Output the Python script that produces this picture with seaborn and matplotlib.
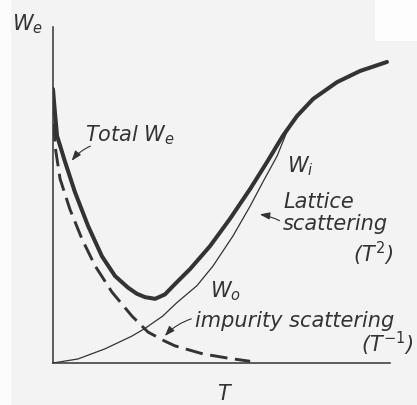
import matplotlib
matplotlib.use("Agg")
import matplotlib.pyplot as plt
from matplotlib.patches import Rectangle
import pandas as pd
import seaborn as sns

# Total electronic thermal resistance W_e versus temperature
total_T = [0.0, 0.03, 0.12, 0.36, 0.65, 1.04, 1.45, 1.84, 2.23, 2.49, 2.73, 3.03,
           3.32, 3.62, 4.07, 4.66, 5.25, 5.85, 6.35, 6.82, 7.24, 7.72, 8.43, 9.11, 9.91]
total_W = [8.15, 7.77, 6.76, 5.98, 5.09, 4.08, 3.18, 2.59, 2.24, 2.06, 1.96, 1.91,
           2.04, 2.35, 2.80, 3.48, 4.29, 5.18, 5.98, 6.76, 7.35, 7.86, 8.36, 8.69, 8.96]

# Impurity scattering part W_o (~ T^-1)
imp_T = [0.01, 0.06, 0.21, 0.50, 0.86, 1.25, 1.75, 2.34, 2.82, 3.32, 3.62, 4.45, 5.16, 5.85]
imp_W = [7.86, 6.46, 5.48, 4.58, 3.69, 2.89, 2.11, 1.40, 0.92, 0.65, 0.51, 0.27, 0.15, 0.05]

# Lattice scattering part W_i (~ T^2)
lat_T = [0.0, 0.74, 1.54, 2.34, 2.73, 3.26, 3.68, 4.27, 4.75, 5.34, 5.85, 6.23, 6.65,
         6.94, 7.03]
lat_W = [0.0, 0.12, 0.42, 0.80, 1.03, 1.40, 1.80, 2.30, 2.89, 3.78, 4.67, 5.39, 6.16,
         6.88, 7.02]

total = pd.DataFrame({"T": total_T, "W": total_W})
impurity = pd.DataFrame({"T": imp_T, "W": imp_W})
lattice = pd.DataFrame({"T": lat_T, "W": lat_W})

sns.set_theme(style="white")
plt.rcParams["font.family"] = ["DejaVu Sans"]
plt.rcParams["mathtext.fontset"] = "dejavusans"

INK = "#333333"
W_PX, H_PX = 417, 406
fig = plt.figure(figsize=(W_PX / 100, H_PX / 100), dpi=100, facecolor="#f3f3f3")

# paper edges
fig.patches.append(Rectangle((0, 0), 11 / W_PX, 1, transform=fig.transFigure,
                             facecolor="#fcfcfc", edgecolor="none", zorder=0))
fig.patches.append(Rectangle((375 / W_PX, 1 - 42 / H_PX), 42 / W_PX, 42 / H_PX,
                             transform=fig.transFigure, facecolor="#fdfdfd",
                             edgecolor="none", zorder=0))

ax = fig.add_axes([53 / W_PX, 1 - 364 / H_PX, 337 / W_PX, 336 / H_PX])
ax.set_facecolor("none")

sns.lineplot(data=lattice, x="T", y="W", ax=ax, color=INK, lw=0.9,
             estimator=None, sort=False, solid_joinstyle="round")
sns.lineplot(data=impurity, x="T", y="W", ax=ax, color=INK, lw=2.1,
             estimator=None, sort=False)
ax.lines[-1].set_dashes([6, 2.6])
sns.lineplot(data=total, x="T", y="W", ax=ax, color=INK, lw=2.9,
             estimator=None, sort=False, solid_capstyle="round",
             solid_joinstyle="round")

ax.set_xlim(0, 10)
ax.set_ylim(0, 10)
ax.set_xticks([])
ax.set_yticks([])
ax.set_xlabel("")
ax.set_ylabel("")
for side in ("top", "right"):
    ax.spines[side].set_visible(False)
for side in ("left", "bottom"):
    ax.spines[side].set_color(INK)
    ax.spines[side].set_linewidth(1.1)


def label(x, y, s, **kw):
    fig.text(x / W_PX, 1 - y / H_PX, s, fontsize=15, style="italic",
             color=INK, va="baseline", **kw)


label(12, 30, r"$W_e$")
label(85, 141, r"Total $W_e$")
label(287, 172, r"$W_i$")
label(283, 208, "Lattice")
label(283, 230, "scattering")
label(353, 262, r"($T^2$)")
label(210, 297, r"$W_o$")
label(195, 327, "impurity scattering")
label(414, 352, r"($T^{-1}$)", ha="right")
label(225, 400, r"$T$", ha="center")


def pointer(tail, head, rad):
    ax.annotate("", xy=(head[0], H_PX - head[1]), xycoords="figure pixels",
                xytext=(tail[0], H_PX - tail[1]), textcoords="figure pixels",
                arrowprops=dict(arrowstyle="-|>,head_length=0.5,head_width=0.18",
                                color=INK, lw=0.8,
                                connectionstyle=f"arc3,rad={rad}"))


pointer((93, 146), (70, 164), 0.15)
pointer((282, 223), (257, 215), 0.1)
pointer((194, 319), (163, 339), 0.15)

fig.savefig("out.png", dpi=100, facecolor=fig.get_facecolor())
